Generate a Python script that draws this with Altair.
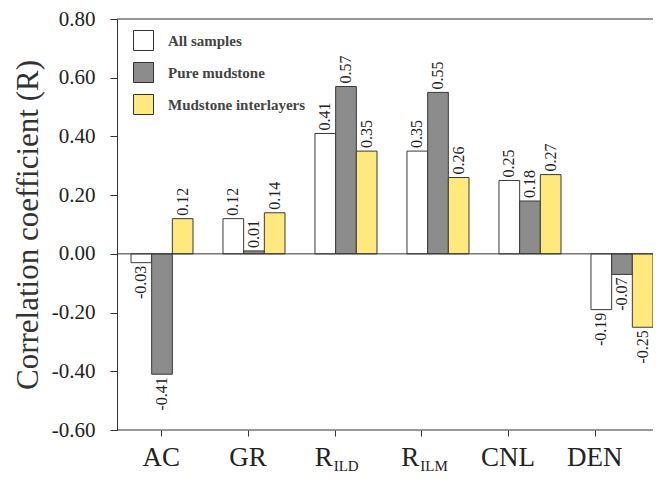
import altair as alt
import pandas as pd

categories = ["AC", "GR", "RILD", "RILM", "CNL", "DEN"]
label_main = ["AC", "GR", "R", "R", "CNL", "DEN"]
label_sub = ["", "", "ILD", "ILM", "", ""]
series = ["All samples", "Pure mudstone", "Mudstone interlayers"]
all_samples = [-0.03, 0.12, 0.41, 0.35, 0.25, -0.19]
pure_mudstone = [-0.41, 0.01, 0.57, 0.55, 0.18, -0.07]
mudstone_interlayers = [0.12, 0.14, 0.35, 0.26, 0.27, -0.25]
colors = ["#ffffff", "#8c8c8c", "#ffe87c"]
y_ticks = [-0.6, -0.4, -0.2, 0.0, 0.2, 0.4, 0.6, 0.8]

rows = []
for s, vals in zip(series, [all_samples, pure_mudstone, mudstone_interlayers]):
    for c, v in zip(categories, vals):
        rows.append({"cat": c, "series": s, "value": v})
df = pd.DataFrame(rows)
labels_df = pd.DataFrame({"cat": categories, "main": label_main, "sub": label_sub})

W, H = 536, 411
FONT = "Liberation Serif"
INK = "#333333"
FMT = "replace(format(datum.value, '.2f'), '\u2212', '-')"

yscale = alt.Scale(domain=[-0.6, 0.8], nice=False, zero=False)
bar_x = alt.X("cat:N", scale=alt.Scale(domain=categories, range=[14, 536],
                                        paddingInner=0.326, paddingOuter=0), axis=None)
xoff = alt.XOffset("series:N", scale=alt.Scale(domain=series, paddingInner=0, paddingOuter=0))

base = alt.Chart(df).transform_calculate(lbl=FMT)

rules = alt.layer(
    alt.Chart().mark_rule(color=INK, strokeWidth=1).encode(y=alt.datum(0.8)),
    alt.Chart().mark_rule(color=INK, strokeWidth=1).encode(y=alt.datum(-0.6)),
)

bars = base.mark_bar(stroke="#3a3a3a", strokeWidth=1).encode(
    x=bar_x,
    xOffset=xoff,
    y=alt.Y("value:Q", scale=yscale,
            axis=alt.Axis(values=y_ticks, labelExpr=FMT, title="Correlation coefficient (R)",
                          grid=False, domain=True, domainColor=INK, tickColor=INK,
                          tickSize=7, labelFont=FONT, labelFontSize=21, labelColor="#222",
                          labelPadding=15, titleFont=FONT, titleFontSize=31,
                          titleFontWeight="normal", titleColor=INK, titlePadding=7)),
    color=alt.Color("series:N", scale=alt.Scale(domain=series, range=colors),
                    legend=alt.Legend(orient="none", legendX=16, legendY=11, title=None,
                                      symbolType="square", symbolSize=400,
                                      symbolStrokeColor=INK, symbolStrokeWidth=1,
                                      labelFont=FONT, labelFontSize=15, labelFontWeight="bold",
                                      labelColor="#444", rowPadding=7, labelOffset=14, padding=0)),
)

zero_rule = alt.Chart().mark_rule(color=INK, strokeWidth=1).encode(y=alt.datum(0))

pos_labels = base.transform_filter("datum.value >= 0").mark_text(
    angle=270, align="left", baseline="middle", dx=3, font=FONT, fontSize=16, color="#222"
).encode(x=bar_x, xOffset=xoff, y=alt.Y("value:Q", scale=yscale), text="lbl:N")

neg_labels = base.transform_filter("datum.value < 0").mark_text(
    angle=270, align="right", baseline="middle", dx=-3, font=FONT, fontSize=16, color="#222"
).encode(x=bar_x, xOffset=xoff, y=alt.Y("value:Q", scale=yscale), text="lbl:N")

cat_x = alt.X("cat:N", scale=alt.Scale(domain=categories, range=[1, 521],
                                        paddingInner=0, paddingOuter=0),
              axis=alt.Axis(labels=False, domain=False, ticks=True, tickSize=6,
                            bandPosition=0, title=None, grid=False, tickColor=INK,
                            orient="bottom"))

lab = alt.Chart(labels_df)
plain = lab.transform_filter("datum.sub == ''").mark_text(
    align="center", baseline="alphabetic", dy=36, font=FONT, fontSize=27, color="#222"
).encode(x=cat_x, y=alt.datum(-0.6), text="main:N")
rlab = lab.transform_filter("datum.sub != ''").mark_text(
    align="right", baseline="alphabetic", dx=-2, dy=36, font=FONT, fontSize=27, color="#222"
).encode(x=cat_x, y=alt.datum(-0.6), text="main:N")
sublab = lab.transform_filter("datum.sub != ''").mark_text(
    align="left", baseline="alphabetic", dx=-1, dy=41, font=FONT, fontSize=15, color="#222"
).encode(x=cat_x, y=alt.datum(-0.6), text="sub:N")

chart = alt.layer(
    alt.layer(rules, bars, zero_rule, pos_labels, neg_labels),
    alt.layer(plain, rlab, sublab),
).resolve_scale(x="independent").properties(
    width=W, height=H, autosize="none",
    padding={"left": 109, "top": 11, "right": 0, "bottom": 43},
).configure_view(stroke=None)

chart.save("out.html", embed_options={"renderer": "svg", "actions": False})
